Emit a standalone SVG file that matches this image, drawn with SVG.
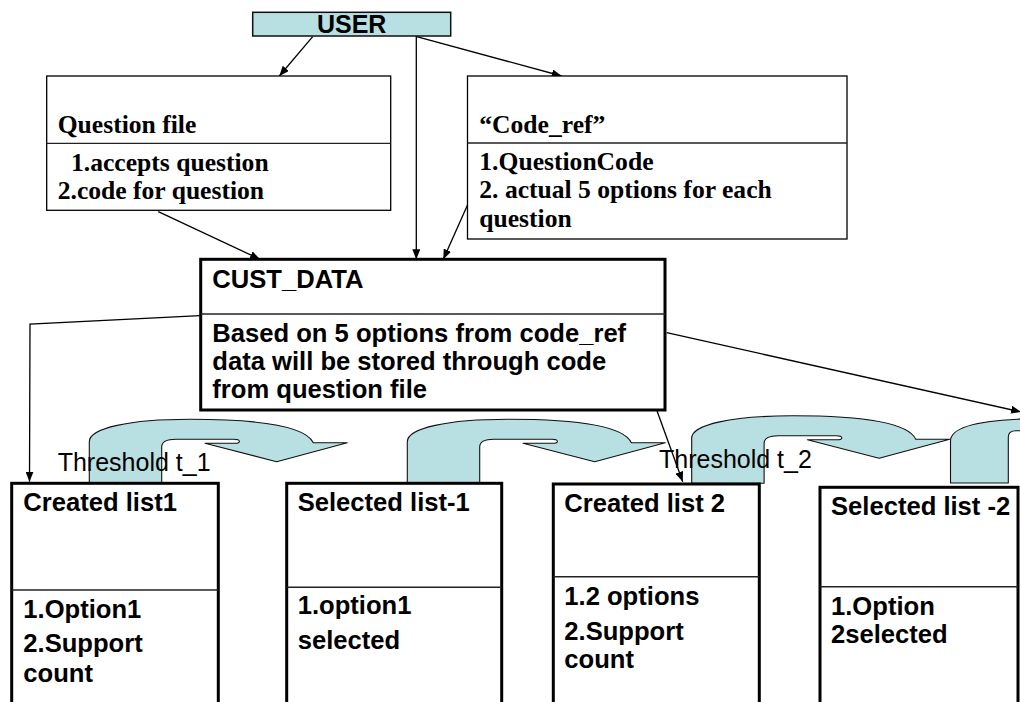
<svg xmlns="http://www.w3.org/2000/svg" width="1020" height="702" viewBox="0 0 1020 702">
<defs>
  <marker id="ah" markerUnits="userSpaceOnUse" markerWidth="10" markerHeight="8" refX="10" refY="4" orient="auto">
    <path d="M0,0 L10,4 L0,8 Z" fill="#000"/>
  </marker>
  <style>
    .sans { font-family: "Liberation Sans", Arial, sans-serif; font-weight: bold; font-size: 25.6px; fill: #000; }
    .serif { font-family: "Liberation Serif", "Times New Roman", serif; font-weight: bold; font-size: 25.6px; fill: #000; }
    .thr { font-family: "Liberation Sans", Arial, sans-serif; font-weight: normal; font-size: 25px; fill: #000; }
    .thin { fill: #fff; stroke: #000; stroke-width: 1.3; }
    .thick { fill: #fff; stroke: #000; stroke-width: 3; }
    .div { stroke: #222; stroke-width: 1.6; fill: none; }
    .conn { stroke: #000; stroke-width: 1.3; fill: none; marker-end: url(#ah); }
    .uturn { fill: #b8dfe2; stroke: #111; stroke-width: 1.1; stroke-linejoin: round; }
  </style>
</defs>
<rect width="1020" height="702" fill="#fff"/>

<g id="flow-arrows">
  <path id="uturn1" class="uturn" d="M 89.3,482.7 L 89.3,441.7 C 89.3,428 130,419.3 190,419.3 C 255,419.3 305,425 313.3,442.7 L 347.3,442.7 L 276.7,461.7 L 205,443.3 L 235,443.3 C 241,443.3 241,439.3 234,439.3 L 176,439.3 C 166,439.3 161.7,442 161.7,447 L 161.7,482.7 Z"/>
  <path id="uturn2" class="uturn" transform="translate(318,0)" d="M 89.3,482.7 L 89.3,441.7 C 89.3,428 130,419.3 190,419.3 C 255,419.3 305,425 313.3,442.7 L 347.3,442.7 L 276.7,461.7 L 205,443.3 L 235,443.3 C 241,443.3 241,439.3 234,439.3 L 176,439.3 C 166,439.3 161.7,442 161.7,447 L 161.7,482.7 Z"/>
  <path id="uturn3" class="uturn" transform="translate(602.4,-3.5)" d="M 89.3,486.8 L 89.3,441.7 C 89.3,428 130,419.3 190,419.3 C 255,419.3 305,425 313.3,442.7 L 347.3,442.7 L 276.7,461.7 L 205,443.3 L 235,443.3 C 241,443.3 241,439.3 234,439.3 L 176,439.3 C 166,439.3 161.7,442 161.7,447 L 161.7,486.8 Z"/>
  <path id="uturn4" class="uturn" d="M 950.5,483 L 950.5,441 C 950.5,427 980,420 1030,418.8 L 1030,430.7 L 1016,430.7 C 1011,430.7 1008.3,433 1008.3,437 L 1008.3,483 Z"/>
</g>

<g id="connectors">
  <line class="conn" x1="312.7" y1="36.7" x2="279.3" y2="76"/>
  <line class="conn" x1="416.3" y1="36" x2="416.3" y2="259.3"/>
  <line class="conn" x1="416.7" y1="36.7" x2="561.7" y2="76"/>
  <line class="conn" x1="158.3" y1="211.7" x2="260" y2="259.3"/>
  <line class="conn" x1="468.3" y1="203.3" x2="443.3" y2="259.3"/>
  <polyline class="conn" points="200,315.7 30,324 29.5,481.7"/>
  <line class="conn" x1="656.7" y1="410" x2="682.7" y2="481.7"/>
  <line class="conn" x1="666.7" y1="332.7" x2="1021" y2="411.9"/>
</g>

<g id="user">
  <rect x="252.7" y="12.3" width="198" height="23.7" fill="#b8dfe2" stroke="#111" stroke-width="1.5"/>
  <text class="sans" x="351.7" y="33" text-anchor="middle" style="font-size:25px">USER</text>
</g>

<g id="question-file">
  <rect class="thin" x="46.7" y="76" width="344" height="134.3"/>
  <line class="div" x1="46.7" y1="143.3" x2="390.7" y2="143.3" style="stroke-width:1.3"/>
  <text class="serif" x="57.7" y="133.3">Question file</text>
  <text class="serif" x="71" y="170.5">1.accepts question</text>
  <text class="serif" x="57.7" y="199">2.code for question</text>
</g>

<g id="code-ref">
  <rect class="thin" x="467.5" y="76" width="379.5" height="163"/>
  <line class="div" x1="467.5" y1="143" x2="847" y2="143" style="stroke-width:1.3"/>
  <text class="serif" x="479.3" y="132.7">“Code_ref”</text>
  <text class="serif" x="479.3" y="170">1.QuestionCode</text>
  <text class="serif" x="479.3" y="198.3">2. actual 5 options for each</text>
  <text class="serif" x="479.3" y="226.7">question</text>
</g>

<g id="cust-data">
  <rect class="thick" x="200.7" y="259.3" width="464.3" height="150.7"/>
  <line class="div" x1="200.7" y1="314" x2="665" y2="314"/>
  <text class="sans" x="212.3" y="288.3">CUST_DATA</text>
  <text class="sans" x="212.3" y="341.7">Based on 5 options from code_ref</text>
  <text class="sans" x="212.3" y="370">data will be stored through code</text>
  <text class="sans" x="212.3" y="398.3">from question file</text>
</g>

<g id="created-list1">
  <rect class="thick" x="11.7" y="483.3" width="206.6" height="240"/>
  <line class="div" x1="11.7" y1="590" x2="218.3" y2="590"/>
  <text class="sans" x="23.3" y="511">Created list1</text>
  <text class="sans" x="23.3" y="618.3">1.Option1</text>
  <text class="sans" x="23.3" y="652.3">2.Support</text>
  <text class="sans" x="23.3" y="681.7">count</text>
</g>

<g id="selected-list1">
  <rect class="thick" x="286.7" y="483.3" width="215" height="240"/>
  <line class="div" x1="286.7" y1="587.3" x2="501.7" y2="587.3"/>
  <text class="sans" x="297.7" y="511">Selected list-1</text>
  <text class="sans" x="297.7" y="614.3">1.option1</text>
  <text class="sans" x="297.7" y="649.3">selected</text>
</g>

<g id="created-list2">
  <rect class="thick" x="553.3" y="484" width="206" height="240"/>
  <line class="div" x1="553.3" y1="576.7" x2="759.3" y2="576.7"/>
  <text class="sans" x="564.3" y="511.7">Created list 2</text>
  <text class="sans" x="564.3" y="605">1.2 options</text>
  <text class="sans" x="564.3" y="640">2.Support</text>
  <text class="sans" x="564.3" y="668.3">count</text>
</g>

<g id="selected-list2">
  <rect class="thick" x="820" y="487.3" width="198" height="240"/>
  <line class="div" x1="820" y1="586.7" x2="1018" y2="586.7"/>
  <text class="sans" x="831" y="515">Selected list -2</text>
  <text class="sans" x="831" y="615">1.Option</text>
  <text class="sans" x="831" y="643.3">2selected</text>
</g>

<g id="threshold-labels">
  <text class="thr" x="57.7" y="471">Threshold t_1</text>
  <text class="thr" x="659" y="468.3">Threshold t_2</text>
</g>
</svg>
